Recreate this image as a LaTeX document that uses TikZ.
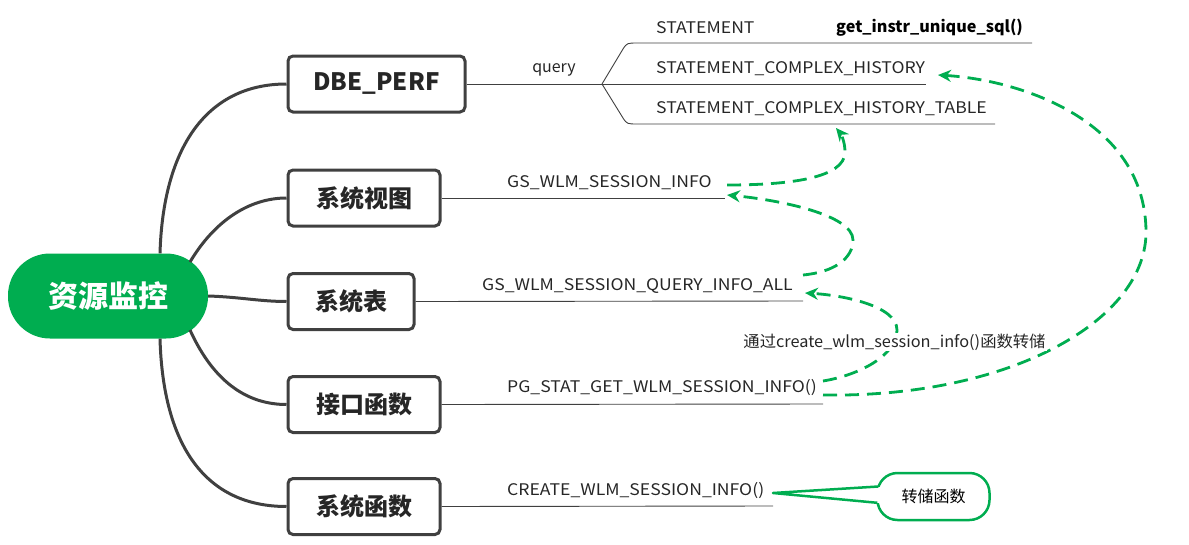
\documentclass[tikz,border=0pt]{standalone}
\usepackage{fontspec}
\setmainfont{Noto Sans CJK SC}
\newfontfamily\capsfont[FakeStretch=1.10]{Noto Sans CJK SC}
\newfontfamily\narrowfont[FakeStretch=1.01]{Noto Sans CJK SC}
\newfontfamily\labelfont[FakeStretch=1.02]{Noto Sans CJK SC}
\usetikzlibrary{arrows.meta}
\definecolor{gr}{RGB}{0,173,80}
\definecolor{dk}{RGB}{64,64,64}
\tikzset{
  rootbox/.style={fill=gr, rounded corners=42pt, minimum width=200pt, minimum height=85pt, inner sep=0pt, text=white, font=\fontsize{30}{34}\selectfont\bfseries},
  catbox/.style={draw=dk, line width=3pt, rounded corners=5pt, fill=white, minimum height=56pt, inner sep=0pt, font=\fontsize{24}{28}\selectfont\bfseries, text=black!85},
  branch/.style={draw=dk, line width=3pt},
  leafline/.style={draw=dk, line width=0.9pt},
  leaf/.style={anchor=west, inner sep=0pt, font=\capsfont\fontsize{16}{19}\selectfont, text=black!85},
  flow/.style={draw=gr, line width=2.8pt, dash pattern=on 14pt off 8pt, -{Stealth[length=13pt,width=12pt]}},
  note/.style={draw=gr, line width=2.5pt, rounded corners=20pt, fill=white, minimum width=112pt, minimum height=47pt, inner sep=0pt, font=\fontsize{16}{19}\selectfont}
}
\begin{document}
\begin{tikzpicture}[x=1pt, y=-1pt]
\useasboundingbox (0,0) rectangle (1189,544);
% root and categories
\node[rootbox] (root) at (108,296) {资源监控};
\node[catbox, minimum width=177pt] (dbe) at (376.5,84) {DBE\_PERF};
\node[catbox, minimum width=152pt] (view) at (364,198) {系统视图};
\node[catbox, minimum width=126pt] (tab) at (351,301.5) {系统表};
\node[catbox, minimum width=152pt] (ifn) at (364,404.5) {接口函数};
\node[catbox, minimum width=152pt] (sfn) at (364,506.5) {系统函数};
% root branches
\draw[branch] ([xshift=52pt]root.north) .. controls (163,150) and (205,84) .. (dbe.west);
\draw[branch] ([xshift=82pt,yshift=34pt]root.center) .. controls (215,220) and (250,198) .. (view.west);
\draw[branch] (root.east) .. controls (240,297) and (260,301.5) .. (tab.west);
\draw[branch] ([xshift=82pt,yshift=-34pt]root.center) .. controls (215,385) and (250,404.5) .. (ifn.west);
\draw[branch] ([xshift=52pt]root.south) .. controls (163,445) and (205,506.5) .. (sfn.west);
% DBE_PERF leaves
\coordinate (fork) at (602,84);
\coordinate (l1end) at (1032,43);
\coordinate (l2end) at (926,84);
\coordinate (l3end) at (995,124);
\draw[leafline] (dbe.east) -- (fork);
\node[font=\fontsize{16}{19}\selectfont, text=black!85, inner sep=0pt] (q) at (554,70) {query};
\draw[leafline] (fork) -- (623,49) .. controls (627,43) .. (638,43) -- (l1end);
\draw[leafline] (fork) -- (l2end);
\draw[leafline] (fork) -- (623,118) .. controls (627,124) .. (638,124) -- (l3end);
\node[leaf] (st) at (656,28) {STATEMENT};
\node[leaf, font=\narrowfont\fontsize{16}{19}\selectfont\bfseries, text=black] (gi) at (836,28) {get\_instr\_unique\_sql()};
\node[leaf] (sch) at (656,69) {STATEMENT\_COMPLEX\_HISTORY};
\node[leaf] (scht) at (656,109) {STATEMENT\_COMPLEX\_HISTORY\_TABLE};
% other leaves
\coordinate (v1end) at (725,198);
\coordinate (t1end) at (803,301);
\coordinate (i1end) at (823,404);
\coordinate (s1end) at (773,506);
\draw[leafline] (view.east) -- (v1end);
\draw[leafline] (tab.east) -- (t1end);
\draw[leafline] (ifn.east) -- (i1end);
\draw[leafline] (sfn.east) -- (s1end);
\node[leaf] (gsi) at (507,183) {GS\_WLM\_SESSION\_INFO};
\node[leaf] (gsq) at (482,286) {GS\_WLM\_SESSION\_QUERY\_INFO\_ALL};
\node[leaf] (pg) at (507,388) {PG\_STAT\_GET\_WLM\_SESSION\_INFO()};
\node[leaf] (cr) at (507,491) {CREATE\_WLM\_SESSION\_INFO()};
% dashed flows
\coordinate (a1s) at (727,185);
\coordinate (a1e) at (836,128);
\coordinate (a2s) at (803,275);
\coordinate (a2e) at (727,195);
\coordinate (a3s) at (823,381);
\coordinate (a3e) at (805,293);
\coordinate (a4s) at (823,395);
\coordinate (a4e) at (938,75);
\draw[flow] (a1s) .. controls (790,185) and (845,178) .. (845,152) .. controls (845,142) and (841,134) .. (a1e);
\draw[flow] (a2s) .. controls (835,272) and (853,258) .. (853,240) .. controls (853,215) and (780,200) .. (a2e);
\draw[flow] (a3s) .. controls (860,375) and (897,355) .. (897,330) .. controls (897,305) and (840,295) .. (a3e);
\draw[flow] (a4s) .. controls (1010,398) and (1148,320) .. (1146,230) .. controls (1144,120) and (1020,80) .. (a4e);
\node[fill=white, inner sep=1pt, font=\labelfont\fontsize{16}{19}\selectfont, text=black!85] (lbl) at (894.5,342) {通过create\_wlm\_session\_info()函数转储};
% callout
\node[note] (dump) at (933.5,496.5) {转储函数};
\coordinate (tip) at (773,493);
\fill[white] (875.5,487) rectangle (881,502.5);
\draw[draw=gr, line width=2.5pt, line join=round] (878.3,486.5) -- (tip) -- (877.4,502.8);
\end{tikzpicture}
\end{document}
